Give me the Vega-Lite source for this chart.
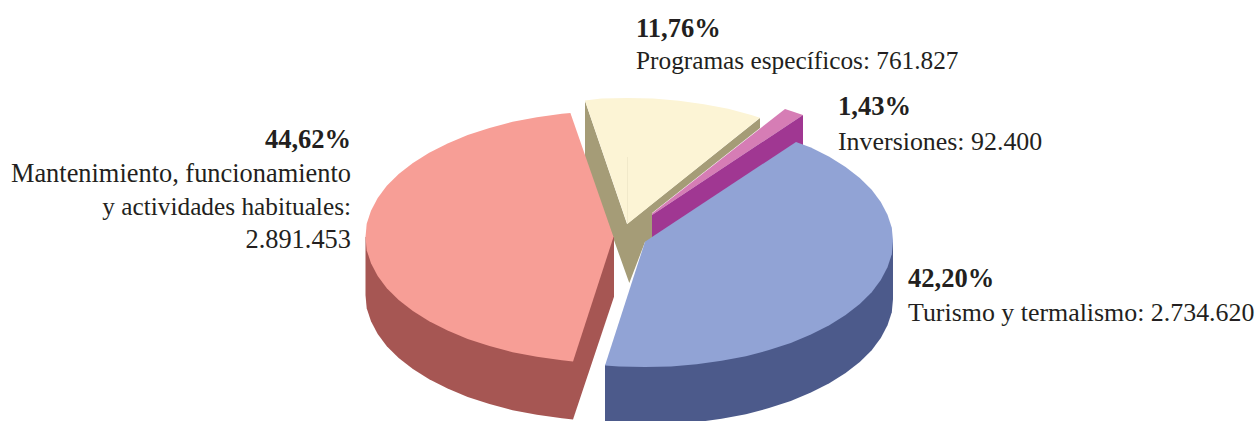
{"$schema":"https://vega.github.io/schema/vega-lite/v6.json","width":1258,"height":421,"padding":0,"autosize":{"type":"fit","contains":"padding"},"background":"white","view":{"stroke":null},
"datasets":{"faces":[
{"f":"olive","x":585,"y":101},{"f":"olive","x":627,"y":224},{"f":"olive","x":760,"y":118},{"f":"olive","x":760,"y":128},{"f":"olive","x":652,"y":213},{"f":"olive","x":652,"y":240},{"f":"olive","x":645,"y":242},{"f":"olive","x":629.3,"y":283},{"f":"olive","x":585,"y":159},
{"f":"yellow","x":585,"y":100.5},{"f":"yellow","x":601.3,"y":98.6},{"f":"yellow","x":627.3,"y":98},{"f":"yellow","x":653.3,"y":98.6},{"f":"yellow","x":678.9,"y":100.8},{"f":"yellow","x":703.9,"y":104.2},{"f":"yellow","x":728.2,"y":108.8},{"f":"yellow","x":751.3,"y":114.9},{"f":"yellow","x":760,"y":117.7},{"f":"yellow","x":627.3,"y":224},
{"f":"pinkside","x":365.5,"y":237},{"f":"pinkside","x":365.5,"y":295},{"f":"pinkside","x":366.7,"y":308.2},{"f":"pinkside","x":371,"y":321.2},{"f":"pinkside","x":377.7,"y":333.9},{"f":"pinkside","x":386.8,"y":346.3},{"f":"pinkside","x":398.7,"y":358},{"f":"pinkside","x":412.9,"y":369.1},{"f":"pinkside","x":429.2,"y":379.3},{"f":"pinkside","x":447.6,"y":388.6},{"f":"pinkside","x":467.7,"y":396.9},{"f":"pinkside","x":489.5,"y":404.1},{"f":"pinkside","x":512.6,"y":410.2},{"f":"pinkside","x":536.9,"y":414.8},{"f":"pinkside","x":561.9,"y":418.2},{"f":"pinkside","x":573,"y":419.5},{"f":"pinkside","x":614,"y":296.7},{"f":"pinkside","x":614,"y":237},
{"f":"pink","x":570.4,"y":112.9},{"f":"pink","x":561.9,"y":113.8},{"f":"pink","x":536.9,"y":117.2},{"f":"pink","x":512.6,"y":121.8},{"f":"pink","x":489.5,"y":127.9},{"f":"pink","x":467.7,"y":135.1},{"f":"pink","x":447.6,"y":143.4},{"f":"pink","x":429.2,"y":152.7},{"f":"pink","x":412.9,"y":162.9},{"f":"pink","x":398.7,"y":174},{"f":"pink","x":386.8,"y":185.7},{"f":"pink","x":377.7,"y":198.1},{"f":"pink","x":371,"y":210.8},{"f":"pink","x":366.7,"y":223.8},{"f":"pink","x":365.5,"y":237},{"f":"pink","x":366.7,"y":250.2},{"f":"pink","x":371,"y":263.2},{"f":"pink","x":377.7,"y":275.9},{"f":"pink","x":386.8,"y":288.3},{"f":"pink","x":398.7,"y":300},{"f":"pink","x":412.9,"y":311.1},{"f":"pink","x":429.2,"y":321.3},{"f":"pink","x":447.6,"y":330.6},{"f":"pink","x":467.7,"y":338.9},{"f":"pink","x":489.5,"y":346.1},{"f":"pink","x":512.6,"y":352.2},{"f":"pink","x":536.9,"y":356.8},{"f":"pink","x":561.9,"y":360.2},{"f":"pink","x":573,"y":361.5},{"f":"pink","x":613.5,"y":237},
{"f":"orchid","x":785,"y":109},{"f":"orchid","x":793.3,"y":111.7},{"f":"orchid","x":803,"y":115},{"f":"orchid","x":652,"y":215},{"f":"orchid","x":652,"y":213.5},
{"f":"magenta","x":652,"y":215},{"f":"magenta","x":803,"y":115},{"f":"magenta","x":803,"y":146},{"f":"magenta","x":652,"y":246},
{"f":"blueside","x":605,"y":365},{"f":"blueside","x":893,"y":241},{"f":"blueside","x":893,"y":299},{"f":"blueside","x":891.8,"y":312.2},{"f":"blueside","x":887.5,"y":325.2},{"f":"blueside","x":880.8,"y":337.9},{"f":"blueside","x":871.7,"y":350.3},{"f":"blueside","x":859.8,"y":362},{"f":"blueside","x":845.6,"y":373.1},{"f":"blueside","x":829.3,"y":383.3},{"f":"blueside","x":810.9,"y":392.6},{"f":"blueside","x":790.8,"y":400.9},{"f":"blueside","x":769,"y":408.1},{"f":"blueside","x":745.9,"y":414.2},{"f":"blueside","x":721.6,"y":418.8},{"f":"blueside","x":696.6,"y":422.2},{"f":"blueside","x":605,"y":422.2},
{"f":"blue","x":796,"y":142},{"f":"blue","x":810.9,"y":147.4},{"f":"blue","x":829.3,"y":156.7},{"f":"blue","x":845.6,"y":166.9},{"f":"blue","x":859.8,"y":178},{"f":"blue","x":871.7,"y":189.7},{"f":"blue","x":880.8,"y":202.1},{"f":"blue","x":887.5,"y":214.8},{"f":"blue","x":891.8,"y":227.8},{"f":"blue","x":893,"y":241},{"f":"blue","x":891.8,"y":254.2},{"f":"blue","x":887.5,"y":267.2},{"f":"blue","x":880.8,"y":279.9},{"f":"blue","x":871.7,"y":292.3},{"f":"blue","x":859.8,"y":304},{"f":"blue","x":845.6,"y":315.1},{"f":"blue","x":829.3,"y":325.3},{"f":"blue","x":810.9,"y":334.6},{"f":"blue","x":790.8,"y":342.9},{"f":"blue","x":769,"y":350.1},{"f":"blue","x":745.9,"y":356.2},{"f":"blue","x":721.6,"y":360.8},{"f":"blue","x":696.6,"y":364.2},{"f":"blue","x":671,"y":366.4},{"f":"blue","x":645,"y":367},{"f":"blue","x":619,"y":366.4},{"f":"blue","x":605,"y":365.4},{"f":"blue","x":645,"y":241.7},{"f":"blue","x":652,"y":237}
],"seam":[{"x":627.5,"y":157},{"x":627.5,"y":223}],"labels":[
{"t":"11,76%","x":636,"y":37,"g":"bl"},{"t":"Programas específicos: 761.827","x":636,"y":69,"g":"nl1"},
{"t":"1,43%","x":838,"y":115,"g":"bl"},{"t":"Inversiones: 92.400","x":838,"y":150,"g":"nl2"},
{"t":"42,20%","x":908,"y":287,"g":"bl"},{"t":"Turismo y termalismo: 2.734.620","x":908,"y":321,"g":"nl2"},
{"t":"44,62%","x":351,"y":148,"g":"br"},{"t":"Mantenimiento, funcionamiento","x":351,"y":182,"g":"nr2"},{"t":"y actividades habituales:","x":351,"y":215,"g":"nr1"},{"t":"2.891.453","x":351,"y":248,"g":"nr2"}
]},
"layer":[
{"data":{"name":"faces"},"transform":[{"window":[{"op":"row_number","as":"i"}]}],"mark":{"type":"line","filled":true,"strokeWidth":0,"clip":true},"encoding":{
"x":{"field":"x","type":"quantitative","scale":{"domain":[0,1258],"nice":false,"zero":false},"axis":null},
"y":{"field":"y","type":"quantitative","scale":{"domain":[421,0],"nice":false,"zero":false},"axis":null},
"order":{"field":"i","type":"quantitative"},
"color":{"field":"f","type":"nominal","legend":null,"scale":{"domain":["olive","yellow","pinkside","pink","orchid","magenta","blueside","blue"],"range":["#A59C77","#FCF4D5","#A65653","#F79E96","#D67DB5","#A03792","#4C5A8B","#91A3D5"]}}}},
{"data":{"name":"seam"},"mark":{"type":"line","stroke":"#F1E9CA","strokeWidth":1},"encoding":{"x":{"field":"x","type":"quantitative"},"y":{"field":"y","type":"quantitative"}}},
{"data":{"name":"labels"},"transform":[{"filter":"datum.g=='bl'"}],"mark":{"type":"text","align":"left","baseline":"alphabetic","font":"Liberation Serif","fontSize":26.5,"fontWeight":"bold","color":"#231F20"},"encoding":{"x":{"field":"x","type":"quantitative"},"y":{"field":"y","type":"quantitative"},"text":{"field":"t"}}},
{"data":{"name":"labels"},"transform":[{"filter":"datum.g=='nl1'"}],"mark":{"type":"text","align":"left","baseline":"alphabetic","font":"Liberation Serif","fontSize":25.3,"color":"#231F20"},"encoding":{"x":{"field":"x","type":"quantitative"},"y":{"field":"y","type":"quantitative"},"text":{"field":"t"}}},
{"data":{"name":"labels"},"transform":[{"filter":"datum.g=='nl2'"}],"mark":{"type":"text","align":"left","baseline":"alphabetic","font":"Liberation Serif","fontSize":25.9,"color":"#231F20"},"encoding":{"x":{"field":"x","type":"quantitative"},"y":{"field":"y","type":"quantitative"},"text":{"field":"t"}}},
{"data":{"name":"labels"},"transform":[{"filter":"datum.g=='br'"}],"mark":{"type":"text","align":"right","baseline":"alphabetic","font":"Liberation Serif","fontSize":26.5,"fontWeight":"bold","color":"#231F20"},"encoding":{"x":{"field":"x","type":"quantitative"},"y":{"field":"y","type":"quantitative"},"text":{"field":"t"}}},
{"data":{"name":"labels"},"transform":[{"filter":"datum.g=='nr1'"}],"mark":{"type":"text","align":"right","baseline":"alphabetic","font":"Liberation Serif","fontSize":25.3,"color":"#231F20"},"encoding":{"x":{"field":"x","type":"quantitative"},"y":{"field":"y","type":"quantitative"},"text":{"field":"t"}}},
{"data":{"name":"labels"},"transform":[{"filter":"datum.g=='nr2'"}],"mark":{"type":"text","align":"right","baseline":"alphabetic","font":"Liberation Serif","fontSize":26.4,"color":"#231F20"},"encoding":{"x":{"field":"x","type":"quantitative"},"y":{"field":"y","type":"quantitative"},"text":{"field":"t"}}}
]}
